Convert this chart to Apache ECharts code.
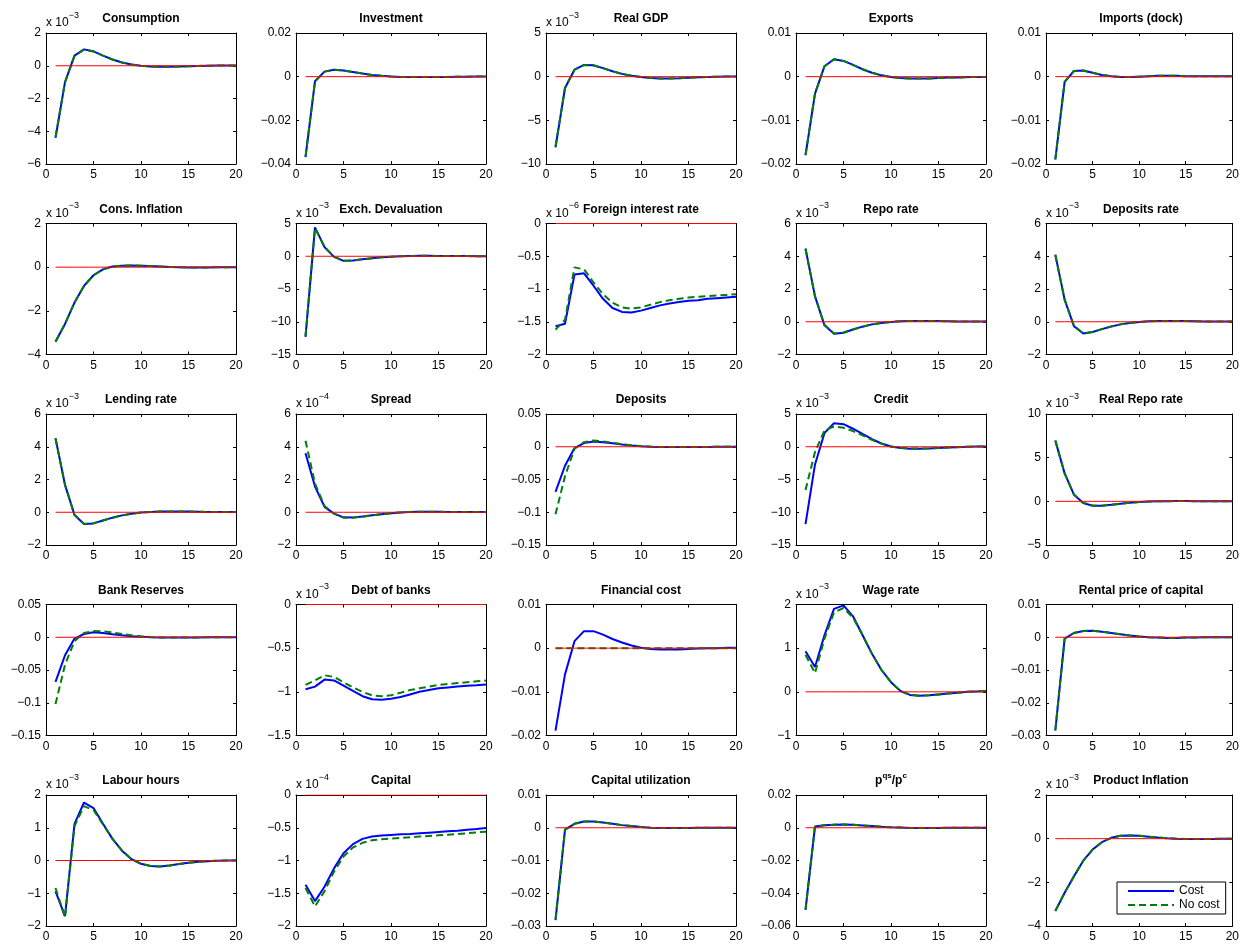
<!DOCTYPE html>
<html>
<head>
<meta charset="utf-8">
<script src="https://cdn.jsdelivr.net/npm/echarts@6/dist/echarts.min.js"></script>
<style>
  html, body { margin: 0; padding: 0; background: #fff; }
  #chart { width: 1242px; height: 947px; }
</style>
</head>
<body>
<div id="chart"></div>
<script>
// horizon (quarters)
const periods = [1, 2, 3, 4, 5, 6, 7, 8, 9, 10, 11, 12, 13, 14, 15, 16, 17, 18, 19, 20];

// values are in the units shown on each axis (see exponent in panels below)
const consumptionCost   = [-4.4, -1.0, 0.62, 1.0, 0.88, 0.62, 0.38, 0.2, 0.08, 0.0, -0.04, -0.06, -0.06, -0.05, -0.03, -0.01, 0.0, 0.01, 0.02, 0.02];
const consumptionNoCost = [-4.35, -1.0, 0.6, 0.98, 0.87, 0.62, 0.38, 0.2, 0.08, 0.0, -0.04, -0.06, -0.06, -0.05, -0.03, -0.01, 0.0, 0.01, 0.02, 0.02];

const investmentCost   = [-0.0368, -0.0021, 0.0023, 0.0032, 0.0028, 0.0021, 0.0014, 0.0008, 0.0004, 0.0001, -0.0001, -0.0002, -0.0002, -0.0002, -0.0001, -0.0001, 0, 0, 0.0001, 0.0001];
const investmentNoCost = [-0.0366, -0.0021, 0.0023, 0.0032, 0.0028, 0.0021, 0.0014, 0.0008, 0.0004, 0.0001, -0.0001, -0.0002, -0.0002, -0.0002, -0.0001, -0.0001, 0, 0, 0.0001, 0.0001];

const gdpCost   = [-8.1, -1.3, 0.8, 1.35, 1.3, 0.98, 0.62, 0.32, 0.1, -0.05, -0.15, -0.2, -0.2, -0.17, -0.12, -0.07, -0.03, 0.0, 0.02, 0.02];
const gdpNoCost = [-8.0, -1.3, 0.8, 1.33, 1.28, 0.97, 0.62, 0.32, 0.1, -0.05, -0.15, -0.2, -0.2, -0.17, -0.12, -0.07, -0.03, 0.0, 0.02, 0.02];

const exportsCost   = [-0.018, -0.0039, 0.0024, 0.004, 0.0036, 0.0027, 0.0017, 0.0009, 0.0003, -0.0001, -0.0003, -0.0004, -0.0004, -0.0004, -0.0003, -0.0002, -0.0002, -0.0001, -0.0001, -0.0001];
const exportsNoCost = [-0.0179, -0.0039, 0.0024, 0.004, 0.0036, 0.0027, 0.0017, 0.0009, 0.0003, -0.0001, -0.0003, -0.0004, -0.0004, -0.0004, -0.0003, -0.0002, -0.0002, -0.0001, -0.0001, -0.0001];

const importsCost   = [-0.019, -0.0012, 0.0013, 0.0014, 0.0009, 0.0004, 0.0001, -0.0001, -0.0001, 0, 0.0001, 0.0002, 0.0002, 0.0002, 0.0001, 0.0001, 0.0001, 0.0001, 0.0001, 0.0001];
const importsNoCost = [-0.0188, -0.0012, 0.0013, 0.0014, 0.0009, 0.0004, 0.0001, -0.0001, -0.0001, 0, 0.0001, 0.0002, 0.0002, 0.0002, 0.0001, 0.0001, 0.0001, 0.0001, 0.0001, 0.0001];

const consInflCost   = [-3.42, -2.6, -1.62, -0.86, -0.37, -0.1, 0.03, 0.07, 0.08, 0.07, 0.05, 0.03, 0.01, 0, -0.01, -0.01, -0.01, 0, 0, 0];
const consInflNoCost = [-3.4, -2.6, -1.62, -0.86, -0.37, -0.1, 0.03, 0.07, 0.08, 0.07, 0.05, 0.03, 0.01, 0, -0.01, -0.01, -0.01, 0, 0, 0];

const exchDevCost   = [-12.3, 4.4, 1.4, -0.1, -0.7, -0.65, -0.47, -0.3, -0.17, -0.07, 0, 0.04, 0.06, 0.06, 0.05, 0.04, 0.03, 0.02, 0.01, 0.01];
const exchDevNoCost = [-12.2, 4.3, 1.45, -0.05, -0.68, -0.64, -0.46, -0.3, -0.17, -0.07, 0, 0.04, 0.06, 0.06, 0.05, 0.04, 0.03, 0.02, 0.01, 0.01];

const foreignRateCost   = [-1.57, -1.53, -0.78, -0.76, -0.95, -1.15, -1.29, -1.35, -1.36, -1.33, -1.29, -1.25, -1.22, -1.2, -1.18, -1.17, -1.15, -1.14, -1.13, -1.12];
const foreignRateNoCost = [-1.62, -1.47, -0.67, -0.7, -0.9, -1.08, -1.21, -1.28, -1.3, -1.28, -1.24, -1.2, -1.17, -1.15, -1.13, -1.12, -1.11, -1.1, -1.09, -1.08];

const repoCost   = [4.47, 1.55, -0.22, -0.73, -0.67, -0.47, -0.3, -0.16, -0.07, -0.01, 0.03, 0.05, 0.05, 0.05, 0.04, 0.03, 0.02, 0.02, 0.01, 0.01];
const repoNoCost = [4.45, 1.55, -0.2, -0.72, -0.66, -0.47, -0.3, -0.16, -0.07, -0.01, 0.03, 0.05, 0.05, 0.05, 0.04, 0.03, 0.02, 0.02, 0.01, 0.01];

const depRateCost   = [4.1, 1.35, -0.27, -0.72, -0.63, -0.45, -0.29, -0.16, -0.07, -0.01, 0.03, 0.04, 0.05, 0.04, 0.04, 0.03, 0.02, 0.02, 0.01, 0.01];
const depRateNoCost = [4.08, 1.35, -0.25, -0.71, -0.62, -0.45, -0.29, -0.16, -0.07, -0.01, 0.03, 0.04, 0.05, 0.04, 0.04, 0.03, 0.02, 0.02, 0.01, 0.01];

const lendingCost   = [4.52, 1.67, -0.17, -0.72, -0.68, -0.5, -0.33, -0.19, -0.09, -0.02, 0.02, 0.04, 0.05, 0.05, 0.04, 0.03, 0.02, 0.02, 0.01, 0.01];
const lendingNoCost = [4.5, 1.68, -0.15, -0.71, -0.67, -0.5, -0.33, -0.19, -0.09, -0.02, 0.02, 0.04, 0.05, 0.05, 0.04, 0.03, 0.02, 0.02, 0.01, 0.01];

const spreadCost   = [3.6, 1.57, 0.33, -0.08, -0.31, -0.32, -0.26, -0.19, -0.12, -0.06, -0.01, 0.02, 0.03, 0.03, 0.03, 0.02, 0.02, 0.01, 0.01, 0.01];
const spreadNoCost = [4.37, 1.75, 0.38, -0.08, -0.33, -0.33, -0.27, -0.2, -0.12, -0.06, -0.01, 0.02, 0.03, 0.03, 0.03, 0.02, 0.02, 0.01, 0.01, 0.01];

const depositsCost   = [-0.069, -0.029, -0.002, 0.0056, 0.008, 0.007, 0.0052, 0.0034, 0.0019, 0.0008, 0.0001, -0.0003, -0.0005, -0.0005, -0.0004, -0.0003, -0.0002, -0.0001, 0, 0];
const depositsNoCost = [-0.103, -0.045, -0.003, 0.007, 0.0095, 0.0082, 0.006, 0.004, 0.0023, 0.001, 0.0002, -0.0003, -0.0005, -0.0005, -0.0004, -0.0003, -0.0002, -0.0001, 0, 0];

const creditCost   = [-11.8, -2.7, 2.1, 3.6, 3.45, 2.75, 1.95, 1.15, 0.5, 0.05, -0.2, -0.3, -0.3, -0.26, -0.19, -0.12, -0.06, -0.01, 0.02, 0.03];
const creditNoCost = [-6.6, -0.8, 2.5, 3.1, 2.9, 2.4, 1.75, 1.05, 0.47, 0.05, -0.17, -0.27, -0.28, -0.24, -0.18, -0.11, -0.05, -0.01, 0.02, 0.03];

const realRepoCost   = [6.97, 3.2, 0.76, -0.2, -0.5, -0.5, -0.4, -0.28, -0.17, -0.09, -0.03, 0.01, 0.02, 0.03, 0.03, 0.02, 0.02, 0.01, 0.01, 0];
const realRepoNoCost = [6.95, 3.2, 0.78, -0.18, -0.49, -0.5, -0.4, -0.28, -0.17, -0.09, -0.03, 0.01, 0.02, 0.03, 0.03, 0.02, 0.02, 0.01, 0.01, 0];

const reservesCost   = [-0.068, -0.0275, -0.002, 0.005, 0.0077, 0.0065, 0.0046, 0.003, 0.0016, 0.0006, 0, -0.0003, -0.0004, -0.0004, -0.0003, -0.0002, -0.0001, 0, 0, 0];
const reservesNoCost = [-0.102, -0.042, -0.006, 0.0065, 0.0095, 0.0092, 0.0073, 0.005, 0.003, 0.0014, 0.0004, -0.0002, -0.0004, -0.0004, -0.0003, -0.0002, -0.0001, 0, 0, 0];

const debtCost   = [-0.97, -0.94, -0.86, -0.87, -0.93, -0.99, -1.05, -1.085, -1.09, -1.08, -1.06, -1.03, -1.0, -0.98, -0.96, -0.95, -0.94, -0.93, -0.925, -0.915];
const debtNoCost = [-0.92, -0.87, -0.81, -0.83, -0.89, -0.95, -1.0, -1.04, -1.05, -1.04, -1.01, -0.98, -0.96, -0.94, -0.92, -0.91, -0.9, -0.89, -0.88, -0.87];

const finCostCost   = [-0.0189, -0.006, 0.0016, 0.0039, 0.0039, 0.0031, 0.0021, 0.0013, 0.0006, 0.0001, -0.0002, -0.0003, -0.0003, -0.0003, -0.0002, -0.0001, 0, 0, 0.0001, 0.0001];
const finCostNoCost = [0, 0, 0, 0, 0, 0, 0, 0, 0, 0, 0, 0, 0, 0, 0, 0, 0, 0, 0, 0];

const wageCost   = [0.93, 0.57, 1.3, 1.9, 1.98, 1.73, 1.3, 0.87, 0.5, 0.22, 0.02, -0.07, -0.09, -0.08, -0.06, -0.04, -0.02, 0, 0.01, 0.02];
const wageNoCost = [0.85, 0.43, 1.22, 1.82, 1.92, 1.7, 1.3, 0.87, 0.5, 0.22, 0.02, -0.07, -0.09, -0.08, -0.06, -0.04, -0.02, 0, 0.01, 0.02];

const rentalCost   = [-0.0285, -0.0004, 0.0013, 0.0019, 0.002, 0.0017, 0.0013, 0.0009, 0.0005, 0.0002, 0, -0.0001, -0.0002, -0.0002, -0.0001, -0.0001, 0, 0, 0, 0];
const rentalNoCost = [-0.0283, -0.0004, 0.0013, 0.0019, 0.002, 0.0017, 0.0013, 0.0009, 0.0005, 0.0002, 0, -0.0001, -0.0002, -0.0002, -0.0001, -0.0001, 0, 0, 0, 0];

const labourCost   = [-0.94, -1.7, 1.12, 1.77, 1.6, 1.12, 0.66, 0.3, 0.04, -0.1, -0.17, -0.18, -0.15, -0.11, -0.07, -0.04, -0.02, -0.01, 0, 0];
const labourNoCost = [-0.84, -1.73, 1.05, 1.66, 1.54, 1.1, 0.66, 0.3, 0.04, -0.1, -0.17, -0.18, -0.15, -0.11, -0.07, -0.04, -0.02, -0.01, 0, 0];

const capitalCost   = [-1.37, -1.62, -1.4, -1.12, -0.89, -0.75, -0.67, -0.635, -0.62, -0.61, -0.6, -0.595, -0.585, -0.575, -0.565, -0.555, -0.545, -0.53, -0.52, -0.505];
const capitalNoCost = [-1.42, -1.7, -1.47, -1.17, -0.94, -0.8, -0.73, -0.69, -0.675, -0.665, -0.655, -0.645, -0.635, -0.625, -0.615, -0.605, -0.595, -0.585, -0.57, -0.56];

const utilCost   = [-0.0282, -0.0006, 0.0012, 0.0019, 0.0019, 0.0016, 0.0012, 0.0008, 0.0005, 0.0002, 0, -0.0001, -0.0001, -0.0001, -0.0001, 0, 0, 0, 0, 0];
const utilNoCost = [-0.028, -0.0006, 0.0012, 0.0019, 0.0019, 0.0016, 0.0012, 0.0008, 0.0005, 0.0002, 0, -0.0001, -0.0001, -0.0001, -0.0001, 0, 0, 0, 0, 0];

const priceRatioCost   = [-0.0502, 0.0008, 0.0015, 0.0019, 0.002, 0.0018, 0.0014, 0.001, 0.0006, 0.0003, 0.0001, -0.0001, -0.0001, -0.0001, -0.0001, 0, 0, 0, 0, 0];
const priceRatioNoCost = [-0.05, 0.0008, 0.0015, 0.0019, 0.002, 0.0018, 0.0014, 0.001, 0.0006, 0.0003, 0.0001, -0.0001, -0.0001, -0.0001, -0.0001, 0, 0, 0, 0, 0];

const prodInflCost   = [-3.32, -2.48, -1.72, -1.01, -0.5, -0.16, 0.04, 0.13, 0.15, 0.13, 0.09, 0.05, 0.02, 0, -0.01, -0.01, -0.01, -0.01, 0, 0];
const prodInflNoCost = [-3.3, -2.48, -1.72, -1.01, -0.5, -0.16, 0.04, 0.13, 0.15, 0.13, 0.09, 0.05, 0.02, 0, -0.01, -0.01, -0.01, -0.01, 0, 0];

const seriesNames = ['Cost', 'No cost'];

// one entry per subplot, row by row
const panels = [
  { title: 'Consumption', exp: '−3', min: -6, max: 2, step: 2, cost: consumptionCost, noCost: consumptionNoCost },
  { title: 'Investment', exp: '', min: -0.04, max: 0.02, step: 0.02, cost: investmentCost, noCost: investmentNoCost },
  { title: 'Real GDP', exp: '−3', min: -10, max: 5, step: 5, cost: gdpCost, noCost: gdpNoCost },
  { title: 'Exports', exp: '', min: -0.02, max: 0.01, step: 0.01, cost: exportsCost, noCost: exportsNoCost },
  { title: 'Imports (dock)', exp: '', min: -0.02, max: 0.01, step: 0.01, cost: importsCost, noCost: importsNoCost },
  { title: 'Cons. Inflation', exp: '−3', min: -4, max: 2, step: 2, cost: consInflCost, noCost: consInflNoCost },
  { title: 'Exch. Devaluation', exp: '−3', min: -15, max: 5, step: 5, cost: exchDevCost, noCost: exchDevNoCost },
  { title: 'Foreign interest rate', exp: '−6', min: -2, max: 0, step: 0.5, cost: foreignRateCost, noCost: foreignRateNoCost },
  { title: 'Repo rate', exp: '−3', min: -2, max: 6, step: 2, cost: repoCost, noCost: repoNoCost },
  { title: 'Deposits rate', exp: '−3', min: -2, max: 6, step: 2, cost: depRateCost, noCost: depRateNoCost },
  { title: 'Lending rate', exp: '−3', min: -2, max: 6, step: 2, cost: lendingCost, noCost: lendingNoCost },
  { title: 'Spread', exp: '−4', min: -2, max: 6, step: 2, cost: spreadCost, noCost: spreadNoCost },
  { title: 'Deposits', exp: '', min: -0.15, max: 0.05, step: 0.05, cost: depositsCost, noCost: depositsNoCost },
  { title: 'Credit', exp: '−3', min: -15, max: 5, step: 5, cost: creditCost, noCost: creditNoCost },
  { title: 'Real Repo rate', exp: '−3', min: -5, max: 10, step: 5, cost: realRepoCost, noCost: realRepoNoCost },
  { title: 'Bank Reserves', exp: '', min: -0.15, max: 0.05, step: 0.05, cost: reservesCost, noCost: reservesNoCost },
  { title: 'Debt of banks', exp: '−3', min: -1.5, max: 0, step: 0.5, cost: debtCost, noCost: debtNoCost },
  { title: 'Financial cost', exp: '', min: -0.02, max: 0.01, step: 0.01, cost: finCostCost, noCost: finCostNoCost },
  { title: 'Wage rate', exp: '−3', min: -1, max: 2, step: 1, cost: wageCost, noCost: wageNoCost },
  { title: 'Rental price of capital', exp: '', min: -0.03, max: 0.01, step: 0.01, cost: rentalCost, noCost: rentalNoCost },
  { title: 'Labour hours', exp: '−3', min: -2, max: 2, step: 1, cost: labourCost, noCost: labourNoCost },
  { title: 'Capital', exp: '−4', min: -2, max: 0, step: 0.5, cost: capitalCost, noCost: capitalNoCost },
  { title: 'Capital utilization', exp: '', min: -0.03, max: 0.01, step: 0.01, cost: utilCost, noCost: utilNoCost },
  { title: '{n|p}{s|qs}{n|/p}{s|c}', exp: '', min: -0.06, max: 0.02, step: 0.02, cost: priceRatioCost, noCost: priceRatioNoCost },
  { title: 'Product Inflation', exp: '−3', min: -4, max: 2, step: 2, cost: prodInflCost, noCost: prodInflNoCost }
];

const FONT = '"Liberation Sans", Arial, Helvetica, sans-serif';
const fmt = v => String(Math.round(v * 1e6) / 1e6).replace('-', '−');

const chart = echarts.init(document.getElementById('chart'));
const option = {
  animation: false,
  backgroundColor: '#fff',
  grid: [], xAxis: [], yAxis: [], series: [], graphic: [],
  legend: {
    data: seriesNames,
    orient: 'vertical',
    left: 1117, top: 882,
    padding: [3, 6, 3, 10],
    itemWidth: 46, itemHeight: 12, itemGap: 2,
    itemStyle: { opacity: 0 },   // line sample only, no marker
    borderColor: '#000', borderWidth: 1, backgroundColor: '#fff',
    selectedMode: false,
    textStyle: { color: '#000', fontSize: 12, fontFamily: FONT }
  }
};

const axisCommon = {
  axisLine: { show: true, onZero: false, lineStyle: { color: '#000', width: 1 } },
  axisTick: { show: true, inside: true, length: 3, lineStyle: { color: '#000' } },
  splitLine: { show: false }
};

panels.forEach((p, i) => {
  const r = Math.floor(i / 5), c = i % 5;
  const left = 46 + 250 * c, top = 33 + 190.5 * r;
  option.grid.push({ left: left, top: top, width: 190, height: 131 });

  ['bottom', 'top'].forEach(pos => {
    option.xAxis.push(Object.assign({
      gridIndex: i, type: 'value', min: 0, max: 20, interval: 5, position: pos,
      axisLabel: { show: pos === 'bottom', color: '#000', fontSize: 12, fontFamily: FONT, margin: 5 }
    }, axisCommon));
  });
  ['left', 'right'].forEach(pos => {
    option.yAxis.push(Object.assign({
      gridIndex: i, type: 'value', min: p.min, max: p.max, interval: p.step, position: pos,
      axisLabel: { show: pos === 'left', color: '#000', fontSize: 12, fontFamily: FONT, margin: 5, formatter: fmt }
    }, axisCommon));
  });

  const axes = { xAxisIndex: 2 * i, yAxisIndex: 2 * i };
  option.series.push(Object.assign({
    name: 'Cost', type: 'line', symbol: 'none', silent: true,
    data: periods.map((t, k) => [t, p.cost[k]]),
    lineStyle: { color: '#0000ff', width: 2 }, itemStyle: { color: '#0000ff' }
  }, axes));
  option.series.push(Object.assign({
    name: 'No cost', type: 'line', symbol: 'none', silent: true,
    data: periods.map((t, k) => [t, p.noCost[k]]),
    lineStyle: { color: '#008000', width: 2, type: [7, 4] }, itemStyle: { color: '#008000' }
  }, axes));
  option.series.push(Object.assign({
    name: 'zero', type: 'line', symbol: 'none', silent: true,
    data: periods.map(t => [t, 0]),
    lineStyle: { color: '#ff0000', width: 1 }
  }, axes));

  // panel title
  option.graphic.push({
    type: 'text', x: left + 95, y: top - 14, silent: true,
    style: {
      text: p.title, align: 'center', verticalAlign: 'middle', fill: '#000',
      font: 'bold 12px ' + FONT,
      rich: {
        n: { fontSize: 12, fontWeight: 'bold', fontFamily: FONT },
        s: { fontSize: 8, fontWeight: 'bold', fontFamily: FONT, padding: [0, 0, 10, 0] }
      }
    }
  });
  // exponent label
  if (p.exp) {
    option.graphic.push({
      type: 'text', x: left, y: top - 10, silent: true,
      style: {
        text: '{b|x 10}{s|' + p.exp + '}', align: 'left', verticalAlign: 'middle', fill: '#000',
        rich: {
          b: { fontSize: 12, fontFamily: FONT },
          s: { fontSize: 9, fontFamily: FONT, padding: [0, 0, 15, 0] }
        }
      }
    });
  }
});

chart.setOption(option);
</script>
</body>
</html>
